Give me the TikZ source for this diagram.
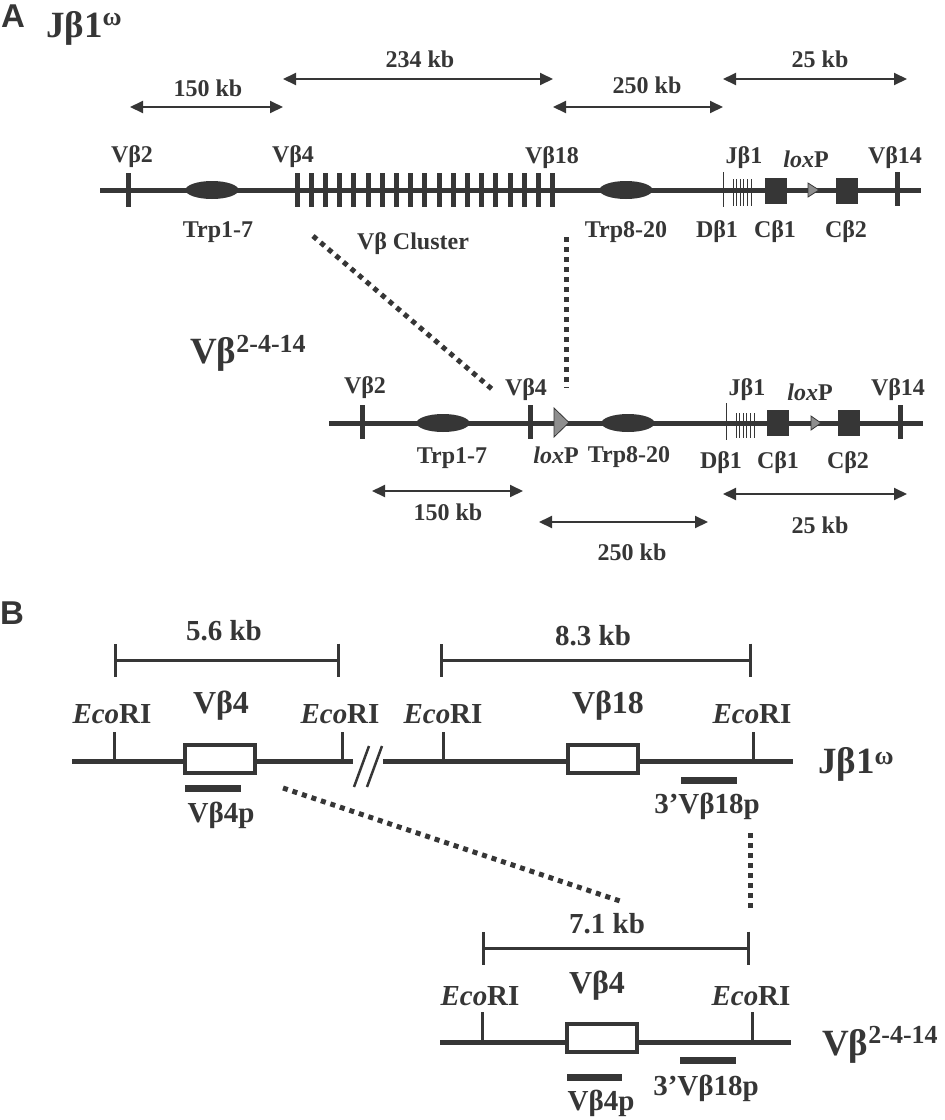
\documentclass[tikz,border=0pt]{standalone}
\usepackage{fontspec}
\setmainfont{Liberation Serif}
\setsansfont{Liberation Sans}
\usepackage{tikz}
\usetikzlibrary{arrows.meta,positioning,shapes.geometric,calc}
\usepackage{xcolor}
\definecolor{ink}{HTML}{363636}
\definecolor{loxfill}{HTML}{8E8E8E}
\newcommand{\fsmap}{\fontsize{24}{26}\selectfont\bfseries}
\newcommand{\fsfrag}{\fontsize{29}{31}\selectfont\bfseries}
\newcommand{\fsgene}{\fontsize{32}{34}\selectfont\bfseries}
\newcommand{\fsallele}{\fontsize{37}{39}\selectfont\bfseries}
\newcommand{\fssup}{\fontsize{26}{28}\selectfont\bfseries}
\newcommand{\fspanel}{\fontsize{33}{35}\selectfont\sffamily\bfseries}
\newcommand{\lox}{\textit{lox}P}
\newcommand{\eco}{\textit{Eco}RI}

\begin{document}
\begin{tikzpicture}[x=1pt,y=-1pt,
    lab/.style={inner sep=0pt,anchor=base,text=ink,font=\fsmap},
    frag/.style={lab,font=\fsfrag},
    gene/.style={lab,font=\fsgene},
    allele/.style={inner sep=0pt,anchor=base west,text=ink,font=\fsallele},
    chrom/.style={draw=ink,line width=5pt},
    vtick/.style={draw=ink,line width=5pt},
    thin/.style={draw=ink,line width=1pt},
    span/.style={{Triangle[length=13pt,width=12pt]}-{Triangle[length=13pt,width=12pt]},draw=ink,line width=2pt},
    bracket/.style={{Bar[width=33pt]}-{Bar[width=33pt]},draw=ink,line width=3pt},
    trp/.style={ellipse,fill=ink,minimum width=53pt,minimum height=18pt,inner sep=0pt},
    cbox/.style={fill=ink,minimum width=22pt,minimum height=26pt,inner sep=0pt},
    exon/.style={draw=ink,fill=white,line width=4pt,minimum width=70pt,minimum height=28pt,inner sep=0pt},
    probe/.style={draw=ink,line width=7pt},
    site/.style={draw=ink,line width=3pt},
    lox/.style={fill=loxfill,draw=ink,line width=0.8pt},
    link/.style={draw=ink,line width=5pt,dash pattern=on 5pt off 5pt}
]
\useasboundingbox (0,0) rectangle (945,1120);

\node[inner sep=0pt,text=ink,font=\fspanel] (pA) at (13,16) {A};
\node[inner sep=0pt,text=ink,font=\fspanel] (pB) at (12,613) {B};

% A: J beta 1 omega locus
\node[allele] (jw) at (46,37) {Jβ1\raisebox{12pt}{\fssup ω}};
\coordinate (s1) at (130,107); \coordinate (s2) at (283,107);
\coordinate (s3) at (283,79);  \coordinate (s4) at (553,79);
\coordinate (s5) at (553,107); \coordinate (s6) at (723,107);
\coordinate (s7) at (723,79);  \coordinate (s8) at (907,79);
\draw[span] (s1) -- (s2);
\draw[span] (s3) -- (s4);
\draw[span] (s5) -- (s6);
\draw[span] (s7) -- (s8);
\node[lab] (k150) at (208,96) {150 kb};
\node[lab] (k234) at (420,67) {234 kb};
\node[lab] (k250) at (647,93) {250 kb};
\node[lab] (k25) at (820,67) {25 kb};

\coordinate (aL) at (100,190); \coordinate (aR) at (921,190);
\draw[chrom] (aL) -- (aR);
\draw[vtick] (128,173) -- (128,207);
\foreach \i in {0,...,18}
    \draw[vtick] ({297+\i*14.2},173) -- ++(0,34);
\node[trp] (trpA1) at (212,190) {};
\node[trp] (trpA2) at (626,190) {};
\draw[thin] (723,172) -- (723,207);
\foreach \i in {0,...,5}
    \draw[thin] ({733+\i*3.6},179) -- ++(0,27);
\node[cbox] (cb1A) at (776,191) {};
\draw[lox] (808,183) -- (819,190) -- (808,197) -- cycle;
\node[cbox] (cb2A) at (847,191) {};
\draw[vtick] (897,172) -- (897,206);

\node[lab] at (132,162) {Vβ2};
\node[lab] at (293,162) {Vβ4};
\node[lab] at (552,163) {Vβ18};
\node[lab] at (744,163) {Jβ1};
\node[lab] at (806,167) {\lox};
\node[lab] at (895,163) {Vβ14};
\node[lab] at (218,237) {Trp1-7};
\node[lab] (clu) at (413,249) {Vβ Cluster};
\node[lab] at (626,237) {Trp8-20};
\node[lab] at (717,237) {Dβ1};
\node[lab] at (775,237) {Cβ1};
\node[lab] at (846,237) {Cβ2};

% A: deleted allele
\node[allele] (vd) at (190,363) {Vβ\raisebox{11pt}{\fssup 2-4-14}};
\coordinate (clL) at (313,236); \coordinate (v4B) at (493,390);
\coordinate (clR) at (566,237); \coordinate (loxB) at (566,388);
\draw[link] (clL) -- (v4B);
\draw[link] (clR) -- (loxB);

\coordinate (bL) at (329,423); \coordinate (bR) at (923,423);
\draw[chrom] (bL) -- (bR);
\draw[vtick] (362,405) -- (362,439);
\node[trp] (trpB1) at (443,423) {};
\draw[vtick] (530,405) -- (530,439);
\draw[lox] (554,408) -- (569,422.5) -- (554,437) -- cycle;
\node[trp] (trpB2) at (628,423) {};
\draw[thin] (726,403) -- (726,440);
\foreach \i in {0,...,5}
    \draw[thin] ({736+\i*3.6},413) -- ++(0,25);
\node[cbox] (cb1B) at (778,422.5) {};
\draw[lox] (811,416) -- (821,423) -- (811,430) -- cycle;
\node[cbox] (cb2B) at (849,422.5) {};
\draw[vtick] (900,405) -- (900,439);

\node[lab] at (365,393) {Vβ2};
\node[lab] at (526,395) {Vβ4};
\node[lab] at (747,395) {Jβ1};
\node[lab] at (810,400) {\lox};
\node[lab] at (898,395) {Vβ14};
\node[lab] at (452,463) {Trp1-7};
\node[lab] at (556,463) {\lox};
\node[lab] at (629,462) {Trp8-20};
\node[lab] at (721,468) {Dβ1};
\node[lab] at (778,468) {Cβ1};
\node[lab] at (848,468) {Cβ2};

\coordinate (t1) at (372,491); \coordinate (t2) at (523,491);
\coordinate (t3) at (539,522); \coordinate (t4) at (708,522);
\coordinate (t5) at (723,494); \coordinate (t6) at (907,494);
\draw[span] (t1) -- (t2);
\draw[span] (t3) -- (t4);
\draw[span] (t5) -- (t6);
\node[lab] at (448,520) {150 kb};
\node[lab] at (632,560) {250 kb};
\node[lab] at (820,533) {25 kb};

% B: EcoRI fragments
\coordinate (f1) at (114,660); \coordinate (f2) at (340,660);
\coordinate (f3) at (440,660); \coordinate (f4) at (752,660);
\draw[bracket] (f1) -- (f2);
\draw[bracket] (f3) -- (f4);
\node[frag] at (224,640) {5.6 kb};
\node[frag] at (593,645) {8.3 kb};

\draw[chrom] (72,761) -- (353,761);
\draw[chrom] (383,761) -- (793,761);
\draw[draw=ink,line width=2.5pt] (354,787) -- (369,746) (367,787) -- (382,746);
\foreach \x in {114,342,443,753}
    \draw[site] (\x,732) -- (\x,761);
\node[exon] (ex4) at (220,759) {};
\node[exon] (ex18) at (603,759) {};
\draw[probe] (185,788) -- (241,788);
\draw[probe] (681,780) -- (737,780);
\node[frag] at (112,723) {\eco};
\node[frag] at (340,723) {\eco};
\node[frag] at (443,723) {\eco};
\node[frag] at (752,723) {\eco};
\node[gene] at (221,713) {Vβ4};
\node[gene] at (608,713) {Vβ18};
\node[frag] at (221,822) {Vβ4p};
\node[frag] at (707,813) {3’Vβ18p};
\node[allele] (jw2) at (818,773) {Jβ1\raisebox{9pt}{\fssup ω}};

\coordinate (p4) at (283,788); \coordinate (q4) at (620,901);
\coordinate (p18) at (750,833); \coordinate (q18) at (750,908);
\draw[link] (p4) -- (q4);
\draw[link] (p18) -- (q18);

\coordinate (g1) at (482,948); \coordinate (g2) at (750,948);
\draw[bracket] (g1) -- (g2);
\node[frag] at (607,933) {7.1 kb};
\draw[chrom] (440,1042) -- (791,1042);
\foreach \x in {482,752}
    \draw[site] (\x,1012) -- (\x,1042);
\node[exon] (ex4d) at (602,1038) {};
\draw[probe] (567,1077) -- (622,1077);
\draw[probe] (680,1060) -- (736,1060);
\node[frag] at (480,1005) {\eco};
\node[frag] at (751,1005) {\eco};
\node[gene] at (597,993) {Vβ4};
\node[frag] at (601,1110) {Vβ4p};
\node[frag] at (706,1095) {3’Vβ18p};
\node[allele] (vd2) at (822,1055) {Vβ\raisebox{12pt}{\fssup 2-4-14}};
\end{tikzpicture}
\end{document}
